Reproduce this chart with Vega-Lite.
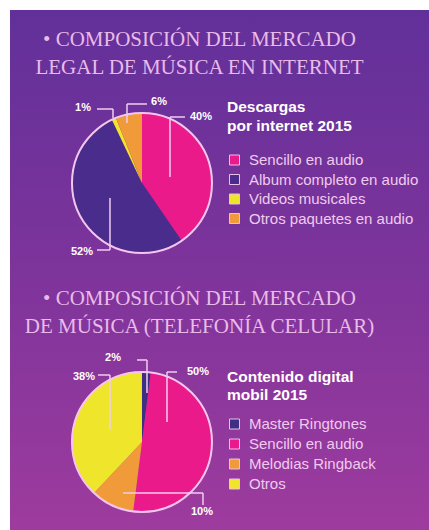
{
  "$schema": "https://vega.github.io/schema/vega-lite/v6.json",
  "width": 419,
  "height": 520,
  "autosize": "none",
  "padding": {"left": 10, "top": 10, "right": 0, "bottom": 0},
  "background": "white",
  "config": {
    "view": {"stroke": null, "fill": {"gradient": "linear", "x1": 0, "y1": 0, "x2": 0, "y2": 1, "stops": [{"offset": 0, "color": "#62309a"}, {"offset": 0.5, "color": "#7d349b"}, {"offset": 1, "color": "#9e3b9e"}]}},
    "text": {"font": "Liberation Sans"}
  },
  "datasets": {
    "internet": [
      {"grafico": "internet", "categoria": "Sencillo en audio", "valor": 40, "etiqueta": "40%", "orden": 1},
      {"grafico": "internet", "categoria": "Album completo en audio", "valor": 52, "etiqueta": "52%", "orden": 2},
      {"grafico": "internet", "categoria": "Videos musicales", "valor": 1, "etiqueta": "1%", "orden": 3},
      {"grafico": "internet", "categoria": "Otros paquetes en audio", "valor": 6, "etiqueta": "6%", "orden": 4}
    ],
    "movil": [
      {"grafico": "movil", "categoria": "Master Ringtones", "valor": 2, "etiqueta": "2%", "orden": 1},
      {"grafico": "movil", "categoria": "Sencillo en audio", "valor": 50, "etiqueta": "50%", "orden": 2},
      {"grafico": "movil", "categoria": "Melodias Ringback", "valor": 10, "etiqueta": "10%", "orden": 3},
      {"grafico": "movil", "categoria": "Otros", "valor": 38, "etiqueta": "38%", "orden": 4}
    ],
    "titulos": [
      {"grafico": "internet", "titulo": "• COMPOSICIÓN DEL MERCADO|LEGAL DE MÚSICA EN INTERNET"},
      {"grafico": "movil", "titulo": "• COMPOSICIÓN DEL MERCADO|DE MÚSICA (TELEFONÍA CELULAR)"}
    ],
    "centros": [
      {"grafico": "internet"},
      {"grafico": "movil"}
    ]
  },
  "resolve": {"scale": {"color": "independent", "theta": "independent"}, "legend": {"color": "independent"}},
  "layer": [
    {
      "data": {"name": "titulos"},
      "mark": {"type": "text", "font": "Liberation Serif", "fontSize": 21, "color": "#e9bbe8", "align": "center", "baseline": "alphabetic", "lineBreak": "|", "lineHeight": 28, "dx": -20, "dy": -137},
      "encoding": {
        "y": {"field": "grafico", "type": "ordinal", "scale": {"type": "point", "domain": ["internet", "movil"], "padding": 0.5039, "align": 0.6628}, "axis": null},
        "text": {"field": "titulo"}
      }
    },
    {
      "data": {"name": "internet"},
      "mark": {"type": "arc", "radius": 70},
      "encoding": {
        "x": {"datum": "centro", "type": "ordinal", "scale": {"type": "point", "align": 0.315}, "axis": null},
        "y": {"field": "grafico", "type": "ordinal", "axis": null},
        "theta": {"field": "valor", "type": "quantitative", "stack": true},
        "order": {"field": "orden", "type": "quantitative"},
        "color": {
          "field": "categoria", "type": "nominal",
          "scale": {"domain": ["Sencillo en audio", "Album completo en audio", "Videos musicales", "Otros paquetes en audio"], "range": ["#ea1a8b", "#4a2c8c", "#efe52a", "#f09a3a"]},
          "legend": {"orient": "none", "legendX": 217, "legendY": 90, "title": ["Descargas", "por internet 2015"], "titleFont": "Liberation Sans", "titleFontSize": 15.5, "titleFontWeight": "bold", "titleColor": "#ffffff", "titleLineHeight": 19, "titlePadding": 18, "labelFont": "Liberation Sans", "labelFontSize": 15, "labelColor": "#f0caee", "symbolType": "square", "symbolSize": 100, "symbolStrokeWidth": 1, "symbolStrokeColor": "#e6c0ea", "rowPadding": 3.5, "labelOffset": 7, "padding": 0, "labelLimit": 300}
        }
      }
    },
    {
      "data": {"name": "movil"},
      "mark": {"type": "arc", "radius": 70},
      "encoding": {
        "x": {"datum": "centro", "type": "ordinal", "axis": null},
        "y": {"field": "grafico", "type": "ordinal", "axis": null},
        "theta": {"field": "valor", "type": "quantitative", "stack": true},
        "order": {"field": "orden", "type": "quantitative"},
        "color": {
          "field": "categoria", "type": "nominal",
          "scale": {"domain": ["Master Ringtones", "Sencillo en audio", "Melodias Ringback", "Otros"], "range": ["#3e2f84", "#ea1a8b", "#f09a3a", "#efe52a"]},
          "legend": {"orient": "none", "legendX": 217, "legendY": 360, "title": ["Contenido digital", "mobil 2015"], "titleFont": "Liberation Sans", "titleFontSize": 15.5, "titleFontWeight": "bold", "titleColor": "#ffffff", "titleLineHeight": 18, "titlePadding": 13, "labelFont": "Liberation Sans", "labelFontSize": 15, "labelColor": "#f0caee", "symbolType": "square", "symbolSize": 100, "symbolStrokeWidth": 1, "symbolStrokeColor": "#e6c0ea", "rowPadding": 4, "labelOffset": 7, "padding": 0, "labelLimit": 300}
        }
      }
    },
    {
      "data": {"name": "centros"},
      "mark": {"type": "arc", "radius": 70, "theta": 0, "theta2": 6.2832, "fillOpacity": 0, "stroke": "#f4c6ee", "strokeWidth": 2},
      "encoding": {
        "x": {"datum": "centro", "type": "ordinal", "axis": null},
        "y": {"field": "grafico", "type": "ordinal", "axis": null}
      }
    },
    {"data": {"name": "centros"}, "transform": [{"filter": "datum.grafico == 'internet'"}], "mark": {"type": "rule", "xOffset": -45, "x2Offset": -29, "yOffset": -74, "y2Offset": -74, "color": "#f0cdef", "strokeWidth": 1.5}, "encoding": {"x": {"datum": "centro", "type": "ordinal"}, "x2": {"datum": "centro"}, "y": {"field": "grafico", "type": "ordinal"}, "y2": {"field": "grafico"}}},
    {"data": {"name": "centros"}, "transform": [{"filter": "datum.grafico == 'internet'"}], "mark": {"type": "rule", "xOffset": -29, "x2Offset": -29, "yOffset": -74, "y2Offset": -65, "color": "#f0cdef", "strokeWidth": 1.5}, "encoding": {"x": {"datum": "centro", "type": "ordinal"}, "x2": {"datum": "centro"}, "y": {"field": "grafico", "type": "ordinal"}, "y2": {"field": "grafico"}}},
    {"data": {"name": "centros"}, "transform": [{"filter": "datum.grafico == 'internet'"}], "mark": {"type": "rule", "xOffset": -15, "x2Offset": 5, "yOffset": -79, "y2Offset": -79, "color": "#f0cdef", "strokeWidth": 1.5}, "encoding": {"x": {"datum": "centro", "type": "ordinal"}, "x2": {"datum": "centro"}, "y": {"field": "grafico", "type": "ordinal"}, "y2": {"field": "grafico"}}},
    {"data": {"name": "centros"}, "transform": [{"filter": "datum.grafico == 'internet'"}], "mark": {"type": "rule", "xOffset": -15, "x2Offset": -15, "yOffset": -79, "y2Offset": -60, "color": "#f0cdef", "strokeWidth": 1.5}, "encoding": {"x": {"datum": "centro", "type": "ordinal"}, "x2": {"datum": "centro"}, "y": {"field": "grafico", "type": "ordinal"}, "y2": {"field": "grafico"}}},
    {"data": {"name": "centros"}, "transform": [{"filter": "datum.grafico == 'internet'"}], "mark": {"type": "rule", "xOffset": 28, "x2Offset": 43, "yOffset": -66, "y2Offset": -66, "color": "#f0cdef", "strokeWidth": 1.5}, "encoding": {"x": {"datum": "centro", "type": "ordinal"}, "x2": {"datum": "centro"}, "y": {"field": "grafico", "type": "ordinal"}, "y2": {"field": "grafico"}}},
    {"data": {"name": "centros"}, "transform": [{"filter": "datum.grafico == 'internet'"}], "mark": {"type": "rule", "xOffset": 28, "x2Offset": 28, "yOffset": -66, "y2Offset": -6, "color": "#f0cdef", "strokeWidth": 1.5}, "encoding": {"x": {"datum": "centro", "type": "ordinal"}, "x2": {"datum": "centro"}, "y": {"field": "grafico", "type": "ordinal"}, "y2": {"field": "grafico"}}},
    {"data": {"name": "centros"}, "transform": [{"filter": "datum.grafico == 'internet'"}], "mark": {"type": "rule", "xOffset": -32, "x2Offset": -32, "yOffset": 15, "y2Offset": 67, "color": "#f0cdef", "strokeWidth": 1.5}, "encoding": {"x": {"datum": "centro", "type": "ordinal"}, "x2": {"datum": "centro"}, "y": {"field": "grafico", "type": "ordinal"}, "y2": {"field": "grafico"}}},
    {"data": {"name": "centros"}, "transform": [{"filter": "datum.grafico == 'internet'"}], "mark": {"type": "rule", "xOffset": -45, "x2Offset": -32, "yOffset": 67, "y2Offset": 67, "color": "#f0cdef", "strokeWidth": 1.5}, "encoding": {"x": {"datum": "centro", "type": "ordinal"}, "x2": {"datum": "centro"}, "y": {"field": "grafico", "type": "ordinal"}, "y2": {"field": "grafico"}}},
    {"data": {"name": "centros"}, "transform": [{"filter": "datum.grafico == 'movil'"}], "mark": {"type": "rule", "xOffset": -5, "x2Offset": 5, "yOffset": -82, "y2Offset": -82, "color": "#f0cdef", "strokeWidth": 1.5}, "encoding": {"x": {"datum": "centro", "type": "ordinal"}, "x2": {"datum": "centro"}, "y": {"field": "grafico", "type": "ordinal"}, "y2": {"field": "grafico"}}},
    {"data": {"name": "centros"}, "transform": [{"filter": "datum.grafico == 'movil'"}], "mark": {"type": "rule", "xOffset": 5, "x2Offset": 5, "yOffset": -82, "y2Offset": -49, "color": "#f0cdef", "strokeWidth": 1.5}, "encoding": {"x": {"datum": "centro", "type": "ordinal"}, "x2": {"datum": "centro"}, "y": {"field": "grafico", "type": "ordinal"}, "y2": {"field": "grafico"}}},
    {"data": {"name": "centros"}, "transform": [{"filter": "datum.grafico == 'movil'"}], "mark": {"type": "rule", "xOffset": -44, "x2Offset": -32, "yOffset": -67, "y2Offset": -67, "color": "#f0cdef", "strokeWidth": 1.5}, "encoding": {"x": {"datum": "centro", "type": "ordinal"}, "x2": {"datum": "centro"}, "y": {"field": "grafico", "type": "ordinal"}, "y2": {"field": "grafico"}}},
    {"data": {"name": "centros"}, "transform": [{"filter": "datum.grafico == 'movil'"}], "mark": {"type": "rule", "xOffset": -32, "x2Offset": -32, "yOffset": -67, "y2Offset": -12, "color": "#f0cdef", "strokeWidth": 1.5}, "encoding": {"x": {"datum": "centro", "type": "ordinal"}, "x2": {"datum": "centro"}, "y": {"field": "grafico", "type": "ordinal"}, "y2": {"field": "grafico"}}},
    {"data": {"name": "centros"}, "transform": [{"filter": "datum.grafico == 'movil'"}], "mark": {"type": "rule", "xOffset": 25, "x2Offset": 35, "yOffset": -70, "y2Offset": -70, "color": "#f0cdef", "strokeWidth": 1.5}, "encoding": {"x": {"datum": "centro", "type": "ordinal"}, "x2": {"datum": "centro"}, "y": {"field": "grafico", "type": "ordinal"}, "y2": {"field": "grafico"}}},
    {"data": {"name": "centros"}, "transform": [{"filter": "datum.grafico == 'movil'"}], "mark": {"type": "rule", "xOffset": 25, "x2Offset": 25, "yOffset": -70, "y2Offset": -20, "color": "#f0cdef", "strokeWidth": 1.5}, "encoding": {"x": {"datum": "centro", "type": "ordinal"}, "x2": {"datum": "centro"}, "y": {"field": "grafico", "type": "ordinal"}, "y2": {"field": "grafico"}}},
    {"data": {"name": "centros"}, "transform": [{"filter": "datum.grafico == 'movil'"}], "mark": {"type": "rule", "xOffset": -19, "x2Offset": 61, "yOffset": 51, "y2Offset": 51, "color": "#f0cdef", "strokeWidth": 1.5}, "encoding": {"x": {"datum": "centro", "type": "ordinal"}, "x2": {"datum": "centro"}, "y": {"field": "grafico", "type": "ordinal"}, "y2": {"field": "grafico"}}},
    {"data": {"name": "centros"}, "transform": [{"filter": "datum.grafico == 'movil'"}], "mark": {"type": "rule", "xOffset": 61, "x2Offset": 61, "yOffset": 51, "y2Offset": 63, "color": "#f0cdef", "strokeWidth": 1.5}, "encoding": {"x": {"datum": "centro", "type": "ordinal"}, "x2": {"datum": "centro"}, "y": {"field": "grafico", "type": "ordinal"}, "y2": {"field": "grafico"}}},
    {"data": {"name": "internet"}, "transform": [{"filter": "datum.categoria == 'Sencillo en audio'"}], "mark": {"type": "text", "dx": 59, "dy": -66, "fontSize": 11, "fontWeight": "bold", "color": "#ffffff", "align": "center", "baseline": "middle"}, "encoding": {"x": {"datum": "centro", "type": "ordinal"}, "y": {"field": "grafico", "type": "ordinal"}, "text": {"field": "etiqueta"}}},
    {"data": {"name": "internet"}, "transform": [{"filter": "datum.categoria == 'Album completo en audio'"}], "mark": {"type": "text", "dx": -60, "dy": 69, "fontSize": 11, "fontWeight": "bold", "color": "#ffffff", "align": "center", "baseline": "middle"}, "encoding": {"x": {"datum": "centro", "type": "ordinal"}, "y": {"field": "grafico", "type": "ordinal"}, "text": {"field": "etiqueta"}}},
    {"data": {"name": "internet"}, "transform": [{"filter": "datum.categoria == 'Videos musicales'"}], "mark": {"type": "text", "dx": -59, "dy": -75, "fontSize": 11, "fontWeight": "bold", "color": "#ffffff", "align": "center", "baseline": "middle"}, "encoding": {"x": {"datum": "centro", "type": "ordinal"}, "y": {"field": "grafico", "type": "ordinal"}, "text": {"field": "etiqueta"}}},
    {"data": {"name": "internet"}, "transform": [{"filter": "datum.categoria == 'Otros paquetes en audio'"}], "mark": {"type": "text", "dx": 17, "dy": -81, "fontSize": 11, "fontWeight": "bold", "color": "#ffffff", "align": "center", "baseline": "middle"}, "encoding": {"x": {"datum": "centro", "type": "ordinal"}, "y": {"field": "grafico", "type": "ordinal"}, "text": {"field": "etiqueta"}}},
    {"data": {"name": "movil"}, "transform": [{"filter": "datum.categoria == 'Master Ringtones'"}], "mark": {"type": "text", "dx": -29, "dy": -84, "fontSize": 11, "fontWeight": "bold", "color": "#ffffff", "align": "center", "baseline": "middle"}, "encoding": {"x": {"datum": "centro", "type": "ordinal"}, "y": {"field": "grafico", "type": "ordinal"}, "text": {"field": "etiqueta"}}},
    {"data": {"name": "movil"}, "transform": [{"filter": "datum.categoria == 'Otros'"}], "mark": {"type": "text", "dx": -58, "dy": -65, "fontSize": 11, "fontWeight": "bold", "color": "#ffffff", "align": "center", "baseline": "middle"}, "encoding": {"x": {"datum": "centro", "type": "ordinal"}, "y": {"field": "grafico", "type": "ordinal"}, "text": {"field": "etiqueta"}}},
    {"data": {"name": "movil"}, "transform": [{"filter": "datum.categoria == 'Sencillo en audio'"}], "mark": {"type": "text", "dx": 56, "dy": -70, "fontSize": 11, "fontWeight": "bold", "color": "#ffffff", "align": "center", "baseline": "middle"}, "encoding": {"x": {"datum": "centro", "type": "ordinal"}, "y": {"field": "grafico", "type": "ordinal"}, "text": {"field": "etiqueta"}}},
    {"data": {"name": "movil"}, "transform": [{"filter": "datum.categoria == 'Melodias Ringback'"}], "mark": {"type": "text", "dx": 60, "dy": 70, "fontSize": 11, "fontWeight": "bold", "color": "#ffffff", "align": "center", "baseline": "middle"}, "encoding": {"x": {"datum": "centro", "type": "ordinal"}, "y": {"field": "grafico", "type": "ordinal"}, "text": {"field": "etiqueta"}}}
  ]
}
